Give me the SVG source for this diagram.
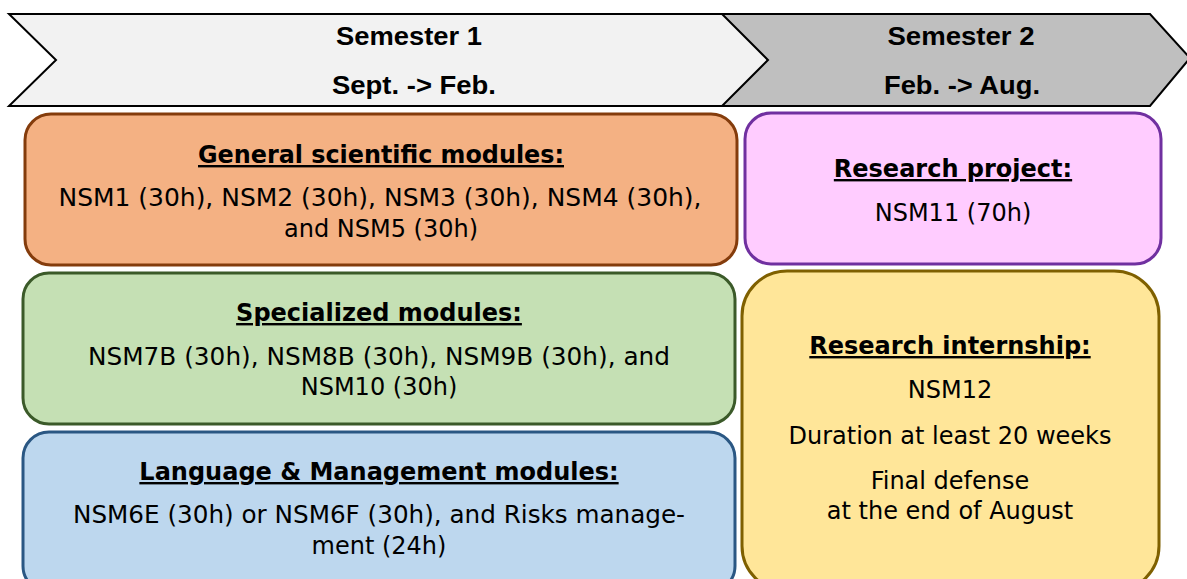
<svg xmlns="http://www.w3.org/2000/svg" width="1187" height="579" viewBox="0 0 1187 579">
<style>
.sem{font-family:"Liberation Sans",Arial,sans-serif;font-weight:bold;font-size:26px;fill:#000;text-anchor:middle}
.h{font-family:"DejaVu Sans",Verdana,sans-serif;font-weight:bold;font-size:24px;text-decoration:underline;text-anchor:middle;fill:#000}
.t{font-family:"DejaVu Sans",Verdana,sans-serif;font-size:24px;text-anchor:middle;fill:#000}
.box{stroke-width:3}
</style>
<rect width="1187" height="579" fill="#fff"/>
<g id="semester1">
<polygon points="9,14 740,14 768,60 740,106 9,106 56,60" fill="#f2f2f2" stroke="#000" stroke-width="2"/>
<text class="sem" x="409" y="45" textLength="146" lengthAdjust="spacingAndGlyphs">Semester 1</text>
<text class="sem" x="414" y="94" textLength="164" lengthAdjust="spacingAndGlyphs">Sept. -&gt; Feb.</text>
</g>
<g id="semester2">
<polygon points="722,14 1150,14 1190,58 1150,106 722,106 768,60" fill="#bfbfbf" stroke="#000" stroke-width="2"/>
<text class="sem" x="961" y="45" textLength="147" lengthAdjust="spacingAndGlyphs">Semester 2</text>
<text class="sem" x="962" y="94" textLength="156" lengthAdjust="spacingAndGlyphs">Feb. -&gt; Aug.</text>
</g>
<g id="general">
<rect class="box" x="25" y="114" width="712" height="151" rx="26" fill="#f4b183" stroke="#843c0c"/>
<text class="h" x="381" y="163" textLength="366" lengthAdjust="spacingAndGlyphs">General scientific modules:</text>
<text class="t" x="380" y="206" textLength="643" lengthAdjust="spacingAndGlyphs">NSM1 (30h), NSM2 (30h), NSM3 (30h), NSM4 (30h),</text>
<text class="t" x="381" y="237">and NSM5 (30h)</text>
</g>
<g id="specialized">
<rect class="box" x="23" y="273" width="712" height="151" rx="26" fill="#c5e0b4" stroke="#3b5a29"/>
<text class="h" x="379" y="321">Specialized modules:</text>
<text class="t" x="379" y="365" textLength="582" lengthAdjust="spacingAndGlyphs">NSM7B (30h), NSM8B (30h), NSM9B (30h), and</text>
<text class="t" x="379" y="395">NSM10 (30h)</text>
</g>
<g id="language">
<rect class="box" x="23" y="432" width="712" height="160" rx="26" fill="#bdd7ee" stroke="#2a5783"/>
<text class="h" x="379" y="480">Language &amp; Management modules:</text>
<text class="t" x="379" y="523" textLength="612" lengthAdjust="spacingAndGlyphs">NSM6E (30h) or NSM6F (30h), and Risks manage-</text>
<text class="t" x="379" y="554">ment (24h)</text>
</g>
<g id="project">
<rect class="box" x="745" y="113" width="416" height="151" rx="26" fill="#ffccff" stroke="#7030a0"/>
<text class="h" x="953" y="177">Research project:</text>
<text class="t" x="953" y="221">NSM11 (70h)</text>
</g>
<g id="internship">
<rect class="box" x="742" y="271" width="417" height="320" rx="45" fill="#ffe699" stroke="#7f6000"/>
<text class="h" x="950" y="354">Research internship:</text>
<text class="t" x="950" y="398">NSM12</text>
<text class="t" x="950" y="444">Duration at least 20 weeks</text>
<text class="t" x="950" y="489">Final defense</text>
<text class="t" x="950" y="519">at the end of August</text>
</g>
<g id="connectors"/>
</svg>
